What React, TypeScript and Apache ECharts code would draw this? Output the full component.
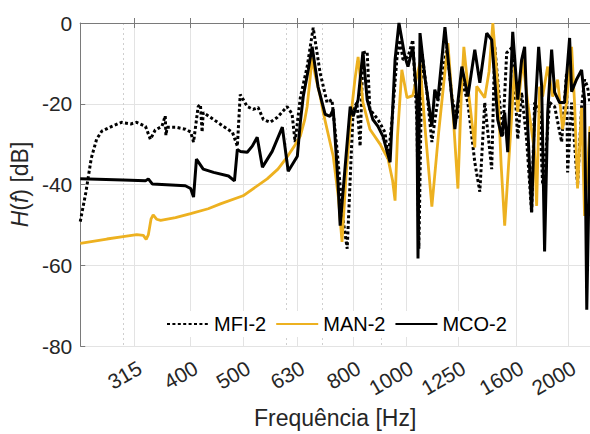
import React, { useEffect, useRef } from 'react';
import * as echarts from 'echarts';

// Axis ticks (Hz) — major (labelled) and minor dotted grid lines
const MAJOR_TICKS = [315, 400, 500, 630, 800, 1000, 1250, 1600, 2000];
const MINOR_GRID = [300, 600, 700, 900];
const SERIES_NAMES = ['MFI-2', 'MAN-2', 'MCO-2'];

// [frequency Hz, H(f) dB]
const MFI2: [number, number][] = [
  [250, -49.2], [256, -42], [262, -33.5], [268, -28.8], [274, -26.8], [286, -25.6], [298, -24.6],
  [310, -25], [318, -24.6], [330, -25.6], [337, -28.8], [344, -26.5], [354, -25.6], [359, -23],
  [360, -27.8], [362, -25.8], [375, -25.8], [391, -26.3], [400, -27], [405, -29.5], [413, -20.7],
  [417, -20.2], [420, -27], [422, -22.2], [441, -23.9], [460, -25.6], [478, -27.1], [488, -30.5],
  [494, -17.7], [509, -20.7], [522, -21.4], [533, -20.9], [545, -23.9], [561, -24.6], [578, -23.4],
  [603, -20.7], [616, -22.5], [624, -29.5], [638, -18.5], [657, -10.8], [674, -1.2], [694, -12.3],
  [715, -19.7], [730, -19], [746, -31.3], [765, -48.5], [779, -55.9], [799, -21.4], [812, -19.7],
  [823, -30.5], [833, -7.4], [848, -7.1], [858, -21.4], [888, -23.9], [915, -27.1], [927, -33.7],
  [943, -23.9], [963, -8.4], [975, -4.2], [988, -9.1], [1009, -8.4], [1030, -4.2], [1048, -23.9],
  [1057, -55.9], [1071, -7.4], [1094, -17.2], [1117, -29.5], [1141, -20.7], [1166, -14], [1191, -5.9],
  [1216, -18.2], [1242, -23.9], [1269, -14], [1302, -19.7], [1341, -34.5], [1370, -41.8], [1399, -19.7],
  [1441, -36.2], [1460, -5.9], [1491, -19.7], [1510, -28.1], [1536, -7.4], [1576, -5.9], [1610, -28.8],
  [1637, -17.2], [1672, -28.8], [1708, -47], [1730, -19.7], [1767, -22.2], [1790, -40], [1821, -29.5],
  [1844, -19.7], [1884, -20.7], [1941, -29.5], [1982, -12.3], [1991, -37], [2025, -19.7], [2077, -40.3],
  [2113, -20.7], [2140, -14], [2167, -15.8], [2190, -20],
];

const MAN2: [number, number][] = [
  [250, -54.6], [280, -53.5], [300, -52.9], [318, -52.4], [327, -52.6], [331, -53.6], [334, -52.5],
  [338, -48.5], [341, -47.5], [346, -48.6], [352, -48.9], [375, -48.2], [400, -47.2], [431, -46],
  [454, -44.8], [500, -42.8], [554, -38.6], [580, -36.2], [603, -33.2], [622, -30.5], [638, -28],
  [650, -24], [657, -20.6], [666, -13], [671, -8.6], [680, -13], [694, -18], [703, -22], [734, -33],
  [750, -43], [762, -54.2], [775, -38], [790, -24], [805, -14], [816, -8.4], [833, -19.7], [858, -26.3],
  [896, -30], [927, -33.7], [945, -39], [955, -44], [965, -28], [983, -11.6], [1005, -18.5], [1030, -18],
  [1045, -14], [1062, -9.8], [1085, -26], [1117, -45.5], [1150, -27], [1196, -5], [1222, -22],
  [1248, -41], [1266, -18], [1280, -5.9], [1302, -15.7], [1341, -30.8], [1352, -15.7], [1399, -18.5],
  [1425, -12], [1448, 0], [1479, -15.8], [1500, -35], [1523, -50.2], [1569, -23], [1589, -10.8],
  [1610, -22], [1644, -9], [1680, -19.7], [1730, -32], [1745, -45.3], [1767, -15.8], [1790, -18.2],
  [1829, -10.8], [1868, -18.2], [1908, -14], [1949, -26.3], [1982, -19.7], [2025, -5.9], [2051, -20],
  [2077, -41], [2113, -21], [2140, -47.8], [2190, -25.6],
];

const MCO2: [number, number][] = [
  [250, -38.6], [300, -38.9], [330, -39.1], [334, -38.6], [340, -39.9], [391, -40.3], [400, -41],
  [405, -43.1], [410, -33.7], [422, -36.2], [441, -37], [470, -37.9], [482, -39.1], [488, -31.3],
  [494, -31.8], [509, -32], [520, -30.5], [531, -28.3], [543, -35.7], [566, -31.8], [591, -25.8],
  [606, -36.7], [630, -33], [638, -24.6], [646, -18.2], [660, -11.6], [671, -5.9], [688, -15.8],
  [709, -22.6], [724, -23.1], [734, -21.4], [749, -39.4], [756, -50.2], [789, -20.7], [799, -23.1],
  [816, -19], [833, -7.1], [848, -19], [869, -23.9], [888, -25.6], [907, -28.1], [935, -34.5],
  [955, -9.1], [971, 0], [996, -8.4], [1009, -10.8], [1030, -5.9], [1048, -19], [1053, -58.3],
  [1062, -2.5], [1084, -13.3], [1117, -25.6], [1131, -16.5], [1146, -19], [1181, -1], [1232, -26.3],
  [1269, -10.8], [1302, -18.2], [1341, -6.6], [1370, -14.8], [1411, -2.5], [1441, -4.2], [1479, -24],
  [1504, -28.1], [1523, -22.2], [1543, -32], [1576, -2.2], [1610, -19], [1637, -9.1], [1658, -5.9],
  [1672, -19.7], [1708, -46.8], [1730, -23.9], [1760, -5.9], [1783, -15.8], [1805, -56.6], [1829, -22.2],
  [1860, -6.6], [1884, -17.2], [1924, -19.7], [1965, -19.7], [2008, -3.7], [2025, -17], [2068, -14],
  [2113, -11.6], [2140, -19], [2160, -71], [2190, -27],
];

const X_MIN = 250;
const X_MAX = 2190;
const TEXT = '#262626';
const AXIS = '#7a7a7a';
const FONT = '"Liberation Sans", Arial, Helvetica, sans-serif';

export default function App() {
  const ref = useRef<HTMLDivElement>(null);
  useEffect(() => {
    const chart = echarts.init(ref.current as HTMLDivElement, null, { renderer: 'svg' });
    chart.setOption({
      animation: false,
      backgroundColor: '#fff',
      textStyle: { fontFamily: FONT },
      grid: { left: 80, right: 0, top: 23, bottom: 86 },
      legend: {
        data: SERIES_NAMES,
        left: 162,
        top: 311,
        padding: [3, 4, 3, 4],
        itemWidth: 42,
        itemHeight: 12,
        itemGap: 9,
        backgroundColor: '#fff',
        itemStyle: { opacity: 0, color: 'transparent', borderWidth: 0 },
        textStyle: { fontSize: 20, color: '#000', fontFamily: FONT },
      },
      xAxis: [
        {
          type: 'log',
          min: X_MIN,
          max: X_MAX,
          position: 'bottom',
          axisLine: { show: true, lineStyle: { color: AXIS, width: 1 } },
          axisTick: { show: true, inside: true, length: 5, customValues: MAJOR_TICKS, lineStyle: { color: AXIS } },
          minorTick: { show: false },
          axisLabel: {
            customValues: MAJOR_TICKS,
            rotate: 30,
            align: 'right',
            verticalAlign: 'top',
            margin: 11,
            fontSize: 21,
            color: TEXT,
            formatter: (v: number) => String(Math.round(v)),
          },
          splitLine: { show: true, lineStyle: { color: '#e3e3e3', width: 1 } },
          name: 'Frequência [Hz]',
          nameLocation: 'middle',
          nameGap: 60,
          nameTextStyle: { fontSize: 23, color: TEXT, fontFamily: FONT },
        },
        {
          type: 'log',
          min: X_MIN,
          max: X_MAX,
          position: 'top',
          axisLine: { show: true, lineStyle: { color: AXIS, width: 1 } },
          axisTick: { show: true, inside: true, length: 5, customValues: MAJOR_TICKS, lineStyle: { color: AXIS } },
          axisLabel: { show: false, customValues: MAJOR_TICKS },
          splitLine: { show: false },
        },
        {
          type: 'log',
          min: X_MIN,
          max: X_MAX,
          position: 'top',
          axisLine: { show: false },
          axisTick: { show: false, customValues: MINOR_GRID },
          axisLabel: { show: false, customValues: MINOR_GRID },
          splitLine: { show: true, lineStyle: { color: '#cfcfcf', width: 1, type: [2, 3] } },
        },
      ],
      yAxis: {
        type: 'value',
        min: -80,
        max: 0,
        interval: 20,
        axisLine: { show: true, lineStyle: { color: AXIS, width: 1 } },
        axisTick: { show: true, inside: true, length: 5, lineStyle: { color: AXIS } },
        axisLabel: { fontSize: 21, color: TEXT, margin: 8 },
        splitLine: { show: true, lineStyle: { color: '#e3e3e3', width: 1 } },
        name: '{i|H}({i|f}) [dB]',
        nameLocation: 'middle',
        nameGap: 44,
        nameRotate: 90,
        nameTextStyle: {
          fontSize: 23,
          color: TEXT,
          fontFamily: FONT,
          rich: { i: { fontStyle: 'italic', fontSize: 23, color: TEXT, fontFamily: FONT } },
        },
      },
      series: [
        {
          name: 'MFI-2',
          type: 'line',
          xAxisIndex: 0,
          data: MFI2,
          symbol: 'none',
          lineStyle: { color: '#000', width: 3, type: [3, 2.4] },
          itemStyle: { color: '#000' },
        },
        {
          name: 'MAN-2',
          type: 'line',
          xAxisIndex: 0,
          data: MAN2,
          symbol: 'none',
          lineStyle: { color: '#EDB120', width: 2.8 },
          itemStyle: { color: '#EDB120' },
        },
        {
          name: 'MCO-2',
          type: 'line',
          xAxisIndex: 0,
          data: MCO2,
          symbol: 'none',
          lineStyle: { color: '#000', width: 3 },
          itemStyle: { color: '#000' },
        },
      ],
    });
    return () => chart.dispose();
  }, []);
  return (
    <div
      ref={ref}
      style={{ position: 'fixed', left: 0, top: 0, width: 590, height: 434, background: '#fff' }}
    />
  );
}
